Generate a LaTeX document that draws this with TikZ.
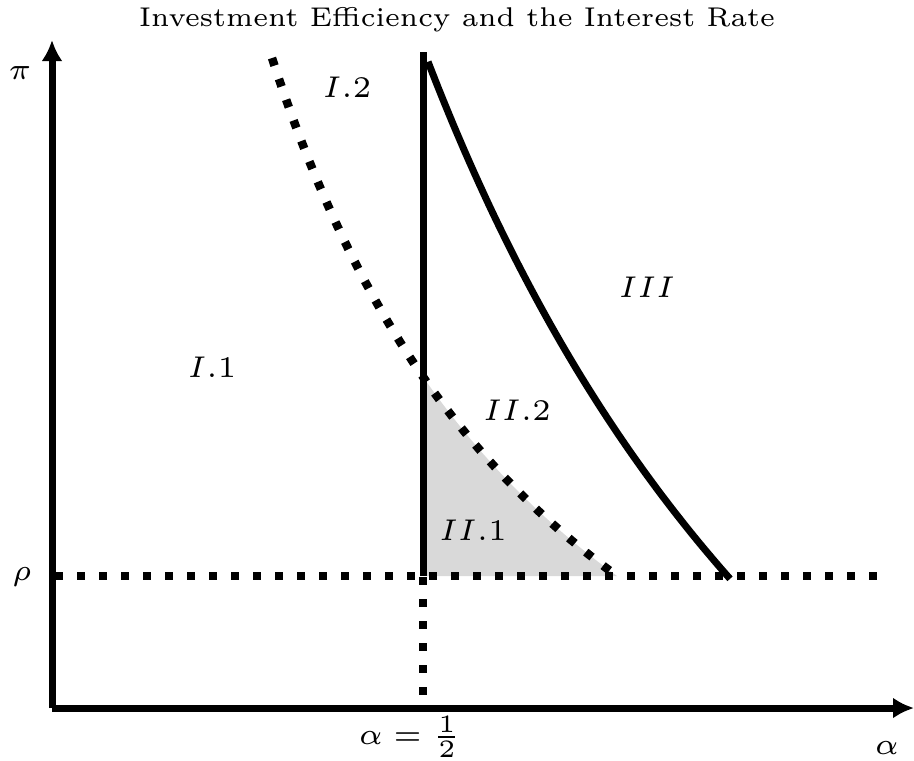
\documentclass[tikz,border=0pt]{standalone}
\usetikzlibrary{arrows.meta}
\begin{document}
\begin{tikzpicture}[x=0.2pt,y=-0.2pt,
  font=\fontsize{6}{7.2}\selectfont,
  axisline/.style={line width=1.4pt,-{Latex[length=4.2pt,width=4.2pt]}},
  dashline/.style={line width=1.7pt,dash pattern=on 1.6pt off 2.8pt},
  solidline/.style={line width=1.4pt},
  lbl/.style={inner sep=0pt,scale=1.0}]
\useasboundingbox (0,0) rectangle (914,760);
% shaded region II.1
\begin{scope}
  \clip (423,0) rectangle (914,576);
  \fill[black!15] plot[domain=272:617,samples=60] (\x,{1067-329.93/((\x+55)/1000)}) -- (272,576) -- cycle;
\end{scope}
% coordinates
\coordinate (O) at (52,708);
\coordinate (ytop) at (52,40);
\coordinate (xend) at (914,708);
\coordinate (rhoL) at (55,576);
\coordinate (rhoR) at (886,576);
\coordinate (halfTop) at (423,52);
\coordinate (halfMid) at (423,576);
\coordinate (halfDash) at (423,577);
\coordinate (halfBot) at (423,708);
% axes
\draw[axisline] (O) -- (ytop);
\draw[axisline] (O) -- (xend);
% rho line and alpha = 1/2 line
\draw[dashline] (rhoL) -- (rhoR);
\draw[dashline] (halfDash) -- (halfBot);
\draw[solidline] (halfTop) -- (halfMid);
% dashed curve
\draw[dashline] plot[domain=272:617,samples=60] (\x,{1067-329.93/((\x+55)/1000)});
% solid curve
\draw[solidline] plot[domain=428:730,samples=60] (\x,{1582-890.837/((\x+158)/1000)});
% labels
\node[inner sep=0pt,anchor=base] (title) at (457,26) {\resizebox{127.2pt}{!}{Investment Efficiency and the Interest Rate}};
\node[lbl] (pi) at (20,73) {$\pi$};
\node[lbl] (rho) at (22,577) {$\rho$};
\node[lbl] (half) at (410,737) {$\alpha = \frac{1}{2}$};
\node[lbl] (alpha) at (887,748) {$\alpha$};
\node[lbl] (I1) at (212,367) {$I.1$};
\node[lbl] (I2) at (347,87) {$I.2$};
\node[lbl] (III) at (647,287) {$III$};
\node[lbl] (II2) at (517,410) {$II.2$};
\node[lbl] (II1) at (473,530) {$II.1$};
\end{tikzpicture}
\end{document}
